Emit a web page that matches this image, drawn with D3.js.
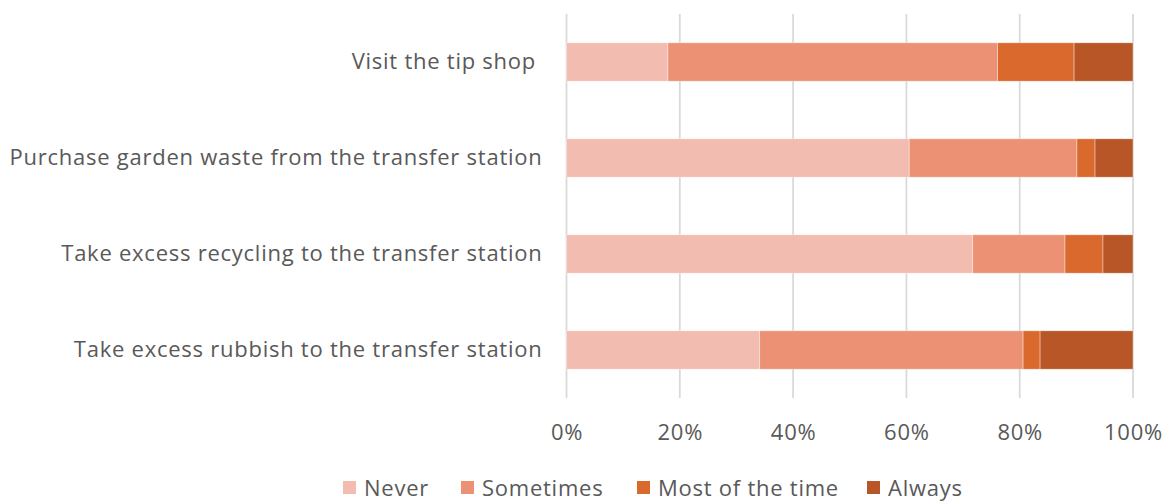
<!DOCTYPE html>
<html>
<head>
<meta charset="utf-8">
<script src="https://cdn.jsdelivr.net/npm/d3@7"></script>
<style>
  html, body { margin: 0; padding: 0; background: #ffffff; }
  svg { display: block; }
  text { font-family: "Open Sans", "Noto Sans", sans-serif; fill: #595959; white-space: pre; }
</style>
</head>
<body>
<svg id="chart" width="1168" height="501"></svg>
<script>
// Survey questions, top to bottom
const categories = [
  "Visit the tip shop ",
  "Purchase garden waste from the transfer station",
  "Take excess recycling to the transfer station",
  "Take excess rubbish to the transfer station"
];

// Response options (stack order, left to right)
const seriesNames = ["Never", "Sometimes", "Most of the time", "Always"];

// Share of responses (%) per question, in the order of `categories`
const never         = [17.9, 60.5, 71.7, 34.1];
const sometimes     = [58.2, 29.6, 16.3, 46.5];
const mostOfTheTime = [13.5, 3.2, 6.7, 3.0];
const always        = [10.4, 6.7, 5.3, 16.4];

const tickValues = [0, 0.2, 0.4, 0.6, 0.8, 1.0];

const colors = ["#F3BCB0", "#EC9173", "#DA692E", "#B85627"];

const FONT = "'Open Sans', 'Noto Sans', sans-serif";
const FONT_SIZE = "22px";
const LETTER_SPACING = "0.75px";

// Build rows for d3.stack, normalised to fractions
const rows = categories.map((c, i) => {
  const vals = [never[i], sometimes[i], mostOfTheTime[i], always[i]];
  const total = d3.sum(vals);
  const row = { category: c };
  seriesNames.forEach((s, k) => { row[s] = vals[k] / total; });
  return row;
});

const stacked = d3.stack().keys(seriesNames)(rows);

const svg = d3.select("#chart");
const margin = { left: 566.5, right: 35, top: 14, bottom: 103 };
const width = 1168, height = 501;

const x = d3.scaleLinear().domain([0, 1]).range([margin.left, width - margin.right]);
const y = d3.scaleBand().domain(categories)
  .range([margin.top, height - margin.bottom])
  .paddingInner(0.6).paddingOuter(0.3);

// Vertical gridlines
svg.append("g")
  .selectAll("line")
  .data(tickValues)
  .join("line")
  .attr("x1", d => x(d)).attr("x2", d => x(d))
  .attr("y1", margin.top).attr("y2", height - margin.bottom)
  .attr("stroke", "#d9d9d9")
  .attr("stroke-width", 1.75);

// Stacked bars
svg.append("g")
  .selectAll("g")
  .data(stacked)
  .join("g")
  .attr("fill", (d, i) => colors[i])
  .selectAll("rect")
  .data(d => d)
  .join("rect")
  .attr("x", d => x(d[0]))
  .attr("y", d => y(d.data.category))
  .attr("width", d => x(d[1]) - x(d[0]))
  .attr("height", y.bandwidth())
  .attr("stroke", "#ffffff")
  .attr("stroke-opacity", 0.5)
  .attr("stroke-width", 0.75);

function styleText(sel) {
  sel.style("font-size", FONT_SIZE)
    .style("font-family", FONT)
    .style("letter-spacing", LETTER_SPACING)
    .attr("fill", "#595959");
}

// Category labels
const yAxis = d3.axisLeft(y).tickSize(0).tickPadding(24);
const yg = svg.append("g")
  .attr("transform", `translate(${margin.left},0)`)
  .call(yAxis);
yg.select(".domain").remove();
yg.selectAll("text").call(styleText);

// Percentage axis labels
const xAxis = d3.axisBottom(x).tickValues(tickValues).tickFormat(d3.format(".0%")).tickSize(0).tickPadding(26);
const xg = svg.append("g")
  .attr("transform", `translate(0,${height - margin.bottom})`)
  .call(xAxis);
xg.select(".domain").remove();
xg.selectAll("text").call(styleText);

// Legend
const legendX = [343, 461, 637, 867];
const legend = svg.append("g")
  .selectAll("g")
  .data(seriesNames)
  .join("g")
  .attr("transform", (d, i) => `translate(${legendX[i]},488)`);
legend.append("rect")
  .attr("x", 0).attr("y", -7)
  .attr("width", 13).attr("height", 13)
  .attr("fill", (d, i) => colors[i]);
legend.append("text")
  .attr("x", 21).attr("y", 0)
  .attr("dy", "0.35em")
  .call(styleText)
  .text(d => d);
</script>
</body>
</html>
